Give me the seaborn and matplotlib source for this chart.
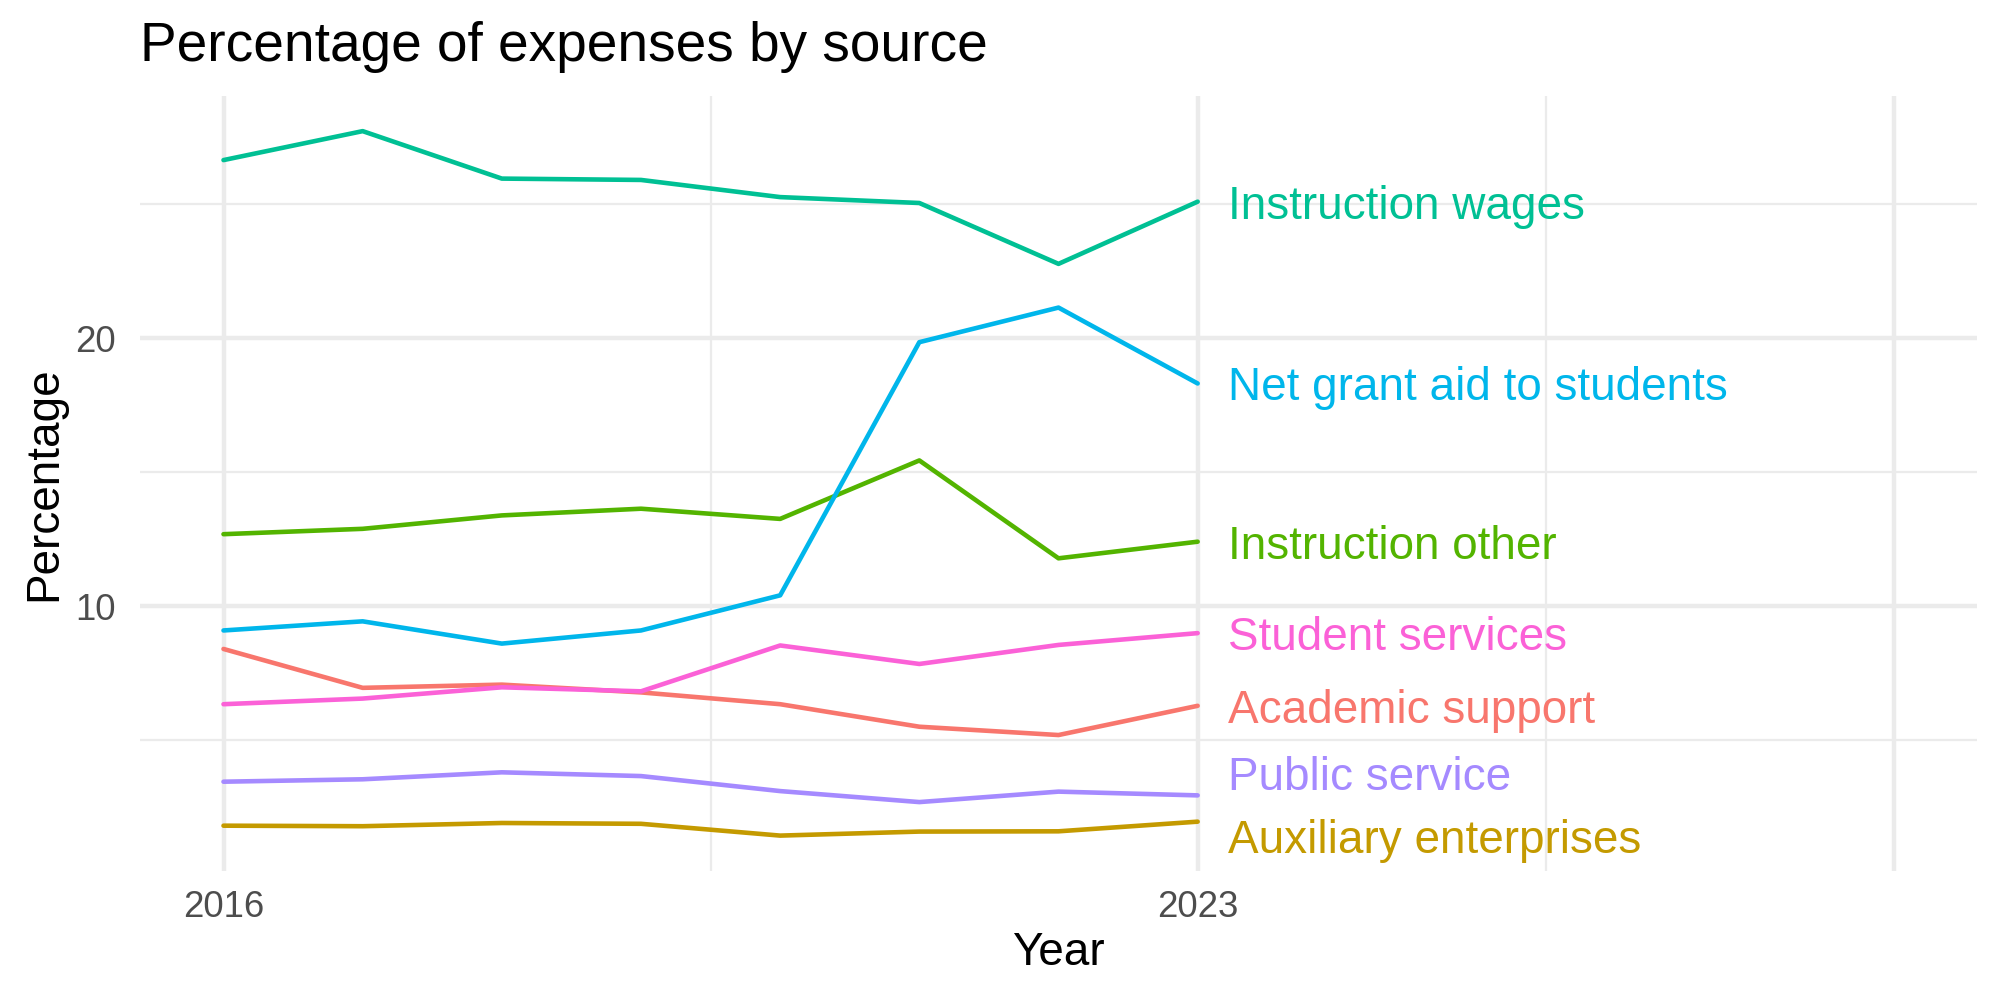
import pandas as pd
import seaborn as sns
import matplotlib.pyplot as plt

# Werte (Prozent der Ausgaben)
years = [2016, 2017, 2018, 2019, 2020, 2021, 2022, 2023]
academic_support = [8.41, 6.96, 7.08, 6.79, 6.35, 5.51, 5.20, 6.29]
auxiliary_enterprises = [1.82, 1.80, 1.92, 1.89, 1.45, 1.60, 1.61, 1.97]
instruction_other = [12.69, 12.89, 13.39, 13.64, 13.26, 15.44, 11.79, 12.41]
instruction_wages = [26.64, 27.72, 25.95, 25.90, 25.26, 25.04, 22.77, 25.09]
net_grant_aid = [9.10, 9.44, 8.61, 9.10, 10.41, 19.85, 21.14, 18.31]
public_service = [3.46, 3.55, 3.81, 3.67, 3.11, 2.70, 3.09, 2.95]
student_services = [6.35, 6.56, 6.98, 6.83, 8.54, 7.85, 8.56, 9.00]

sources = ['Academic support', 'Auxiliary enterprises', 'Instruction other',
           'Instruction wages', 'Net grant aid to students', 'Public service',
           'Student services']
series = [academic_support, auxiliary_enterprises, instruction_other,
          instruction_wages, net_grant_aid, public_service, student_services]
colors = ['#F8766D', '#C49A00', '#53B400', '#00C094', '#00B6EB', '#A58AFF', '#FB61D7']

# Langes Format fuer seaborn
rows = []
for name, vals in zip(sources, series):
    for yr, v in zip(years, vals):
        rows.append({'Year': yr, 'Percentage': v, 'Source': name})
df = pd.DataFrame(rows)

sns.set_theme(style='whitegrid')
plt.rcParams['font.family'] = ['Liberation Sans', 'DejaVu Sans']
plt.rcParams['text.color'] = 'black'
plt.rcParams['axes.labelcolor'] = 'black'

fig = plt.figure(figsize=(2000 / 300, 1000 / 300), dpi=300)
ax = fig.add_axes([0.070, 0.129, 0.9185, 0.775])

sns.lineplot(data=df, x='Year', y='Percentage', hue='Source', palette=colors,
             hue_order=sources, linewidth=1.1, legend=False, ax=ax)

# Beschriftungen am Linienende (zwei Labels leicht verschoben, wie im Original)
label_shift = {'Public service': 0.82, 'Auxiliary enterprises': -0.52}
for name, vals, col in zip(sources, series, colors):
    ax.text(years[-1] + 0.22, vals[-1] + label_shift.get(name, 0), name,
            color=col, fontsize=11, ha='left', va='center_baseline')

# Achsen im Stil von theme_minimal
ax.set_xlim(2015.4, 2028.6)
ax.set_ylim(0.13, 29.03)
ax.set_xticks([2016, 2023, 2028])
ax.set_xticklabels(['2016', '2023', ''])
ax.set_xticks([2019.5, 2025.5], minor=True)
ax.set_yticks([10, 20])
ax.set_yticks([5, 15, 25], minor=True)
ax.grid(which='major', color='#EBEBEB', linewidth=1.07)
ax.grid(which='minor', color='#EBEBEB', linewidth=0.53)
ax.set_axisbelow(True)
for s in ax.spines.values():
    s.set_visible(False)
ax.tick_params(which='both', length=0, labelsize=8.8, labelcolor='#4D4D4D')
ax.tick_params(axis='x', pad=4.5)
ax.tick_params(axis='y', pad=5.8)
ax.set_xlabel('Year', fontsize=11, labelpad=1.5)
ax.set_ylabel('Percentage', fontsize=11, labelpad=2.2)

fig.text(0.070, 0.939, 'Percentage of expenses by source', fontsize=13.2,
         ha='left', va='baseline')

fig.savefig('out.png', dpi=300, facecolor='white')
